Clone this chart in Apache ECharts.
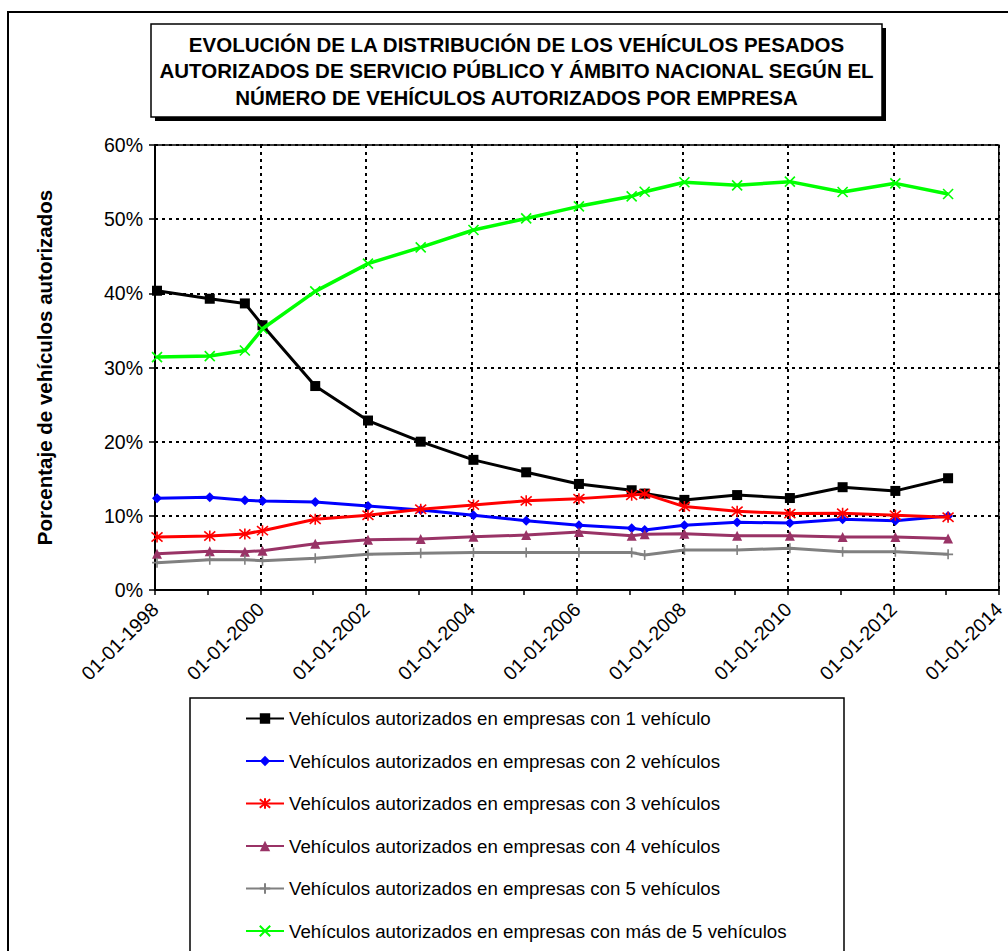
<!DOCTYPE html>
<html>
<head>
<meta charset="utf-8">
<script src="https://cdn.jsdelivr.net/npm/echarts@6/dist/echarts.min.js"></script>
<style>
html,body{margin:0;padding:0;background:#fff;}
#chart{width:1008px;height:951px;}
</style>
</head>
<body>
<div id="chart"></div>
<script>
// ---- data ----
const dates = ['1998-01-15','1999-01-15','1999-09-15','2000-01-15','2001-01-15','2002-01-15','2003-01-15','2004-01-15','2005-01-15','2006-01-15','2007-01-15','2007-04-15','2008-01-15','2009-01-15','2010-01-15','2011-01-15','2012-01-15','2013-01-15'];
const seriesNames = [
  'Vehículos autorizados en empresas con 1 vehículo',
  'Vehículos autorizados en empresas con 2 vehículos',
  'Vehículos autorizados en empresas con 3 vehículos',
  'Vehículos autorizados en empresas con 4 vehículos',
  'Vehículos autorizados en empresas con 5 vehículos',
  'Vehículos autorizados en empresas con más de 5 vehículos'
];
const emp1 = [40.35, 39.27, 38.64, 35.7, 27.5, 22.85, 20.0, 17.55, 15.87, 14.3, 13.45, 13.0, 12.15, 12.8, 12.4, 13.86, 13.36, 15.07];
const emp2 = [12.37, 12.5, 12.1, 12.0, 11.87, 11.33, 10.8, 10.08, 9.35, 8.72, 8.32, 8.1, 8.72, 9.13, 9.04, 9.54, 9.35, 9.99];
const emp3 = [7.15, 7.29, 7.56, 8.0, 9.54, 10.08, 10.89, 11.47, 12.02, 12.32, 12.78, 12.96, 11.25, 10.62, 10.3, 10.35, 10.08, 9.81];
const emp4 = [4.9, 5.22, 5.17, 5.3, 6.25, 6.79, 6.88, 7.19, 7.4, 7.83, 7.33, 7.51, 7.6, 7.33, 7.33, 7.15, 7.15, 6.93];
const emp5 = [3.69, 4.09, 4.09, 3.96, 4.27, 4.81, 4.95, 5.04, 5.04, 5.04, 5.04, 4.72, 5.4, 5.4, 5.62, 5.17, 5.17, 4.81];
const empMas5 = [31.4, 31.54, 32.3, 35.22, 40.26, 44.0, 46.2, 48.54, 50.1, 51.73, 53.08, 53.7, 54.97, 54.56, 55.06, 53.67, 54.83, 53.4];
const yTicks = [0, 10, 20, 30, 40, 50, 60];
const xTickYears = [1998, 2000, 2002, 2004, 2006, 2008, 2010, 2012, 2014];
const titleLines = [
  'EVOLUCIÓN DE LA DISTRIBUCIÓN DE LOS VEHÍCULOS PESADOS',
  'AUTORIZADOS DE SERVICIO PÚBLICO Y ÁMBITO NACIONAL SEGÚN EL',
  'NÚMERO DE VEHÍCULOS AUTORIZADOS POR EMPRESA'
];
const yAxisTitle = 'Porcentaje de vehículos autorizados';

// date string -> fractional year (position on the value axis)
function fracYear(s) {
  const p = s.split('-').map(Number);
  const t = Date.UTC(p[0], p[1] - 1, p[2]);
  const t0 = Date.UTC(p[0], 0, 1), t1 = Date.UTC(p[0] + 1, 0, 1);
  return p[0] + (t - t0) / (t1 - t0);
}
const xs = dates.map(fracYear);
const pair = arr => arr.map((v, i) => [xs[i], v]);

const FONT = "'Liberation Sans', Arial, sans-serif";
const styles = [
  {color: '#000000', symbol: 'rect', size: 10, border: 0},
  {color: '#0000FF', symbol: 'diamond', size: 10, border: 0},
  {color: '#FF0000', symbol: 'path://M0,0L10,10M10,0L0,10M5,-1L5,11', size: 11, border: 1.6},
  {color: '#993366', symbol: 'triangle', size: 10, border: 0},
  {color: '#808080', symbol: 'path://M0,5L10,5M5,0L5,10', size: 10, border: 1.6},
  {color: '#00FF00', symbol: 'path://M0,0L10,10M10,0L0,10', size: 10, border: 1.6}
];
const allData = [emp1, emp2, emp3, emp4, emp5, empMas5];

const series = allData.map((d, i) => ({
  name: seriesNames[i],
  type: 'line',
  data: pair(d),
  symbol: styles[i].symbol,
  symbolSize: styles[i].size,
  showAllSymbol: true,
  lineStyle: {color: styles[i].color, width: i === 5 ? 3.5 : 3},
  itemStyle: {color: styles[i].color, borderColor: styles[i].color, borderWidth: styles[i].border, opacity: 1},
  emphasis: {disabled: true},
  animation: false,
  z: 3 + i
}));

const chart = echarts.init(document.getElementById('chart'), null, {renderer: 'svg'});
chart.setOption({
  backgroundColor: '#ffffff',
  animation: false,
  textStyle: {fontFamily: FONT},
  grid: {left: 155, right: 6, top: 145, bottom: 361, show: true, borderColor: '#000', borderWidth: 1.5, backgroundColor: 'transparent'},
  xAxis: {
    type: 'value', min: xTickYears[0], max: xTickYears[xTickYears.length - 1], interval: 2,
    axisLine: {show: true, lineStyle: {color: '#000', width: 2}},
    axisTick: {show: true, inside: false, length: 5, lineStyle: {color: '#000', width: 1.5}},
    minorTick: {show: true, splitNumber: 2, length: 5, lineStyle: {color: '#000', width: 1.5}},
    splitLine: {show: true, lineStyle: {color: '#000', width: 2, type: [3, 4]}},
    axisLabel: {rotate: 45, margin: 16, fontSize: 19.5, color: '#000', fontFamily: FONT,
      formatter: v => '01-01-' + v}
  },
  yAxis: {
    type: 'value', min: yTicks[0], max: yTicks[yTicks.length - 1], interval: 10,
    name: yAxisTitle, nameLocation: 'middle', nameGap: 100, nameRotate: 90,
    nameTextStyle: {fontSize: 20.5, fontWeight: 'bold', color: '#000', fontFamily: FONT},
    axisLine: {show: true, lineStyle: {color: '#000', width: 2}},
    axisTick: {show: true, inside: false, length: 6, lineStyle: {color: '#000', width: 1.5}},
    splitLine: {show: true, lineStyle: {color: '#000', width: 2, type: [3, 4]}},
    axisLabel: {margin: 12, fontSize: 19.5, color: '#000', fontFamily: FONT, formatter: '{value}%'}
  },
  legend: {
    orient: 'vertical', left: 245, top: 709, padding: 0, height: 320,
    itemWidth: 38, itemHeight: 13, itemGap: 23.5,
    textStyle: {fontSize: 18.7, color: '#000', fontFamily: FONT},
    data: seriesNames
  },
  graphic: [
    {type: 'rect', z: -10, shape: {x: 8, y: 12, width: 1200, height: 1200},
      style: {fill: 'none', stroke: '#000', lineWidth: 2}},
    {type: 'rect', z: 1, shape: {x: 155, y: 28, width: 731, height: 93}, style: {fill: '#000'}},
    {type: 'rect', z: 2, shape: {x: 151, y: 24, width: 731, height: 93}, style: {fill: '#fff', stroke: '#000', lineWidth: 1.5}},
    {type: 'text', z: 3, x: 516.5, y: 31,
      style: {text: titleLines.join('\n'), font: "bold 20.5px " + FONT, fill: '#000',
        textAlign: 'center', textVerticalAlign: 'top', lineHeight: 26.5}},
    {type: 'rect', z: 1, shape: {x: 190, y: 698, width: 654, height: 400},
      style: {fill: 'none', stroke: '#000', lineWidth: 1.5}}
  ],
  series: series
});
</script>
</body>
</html>
